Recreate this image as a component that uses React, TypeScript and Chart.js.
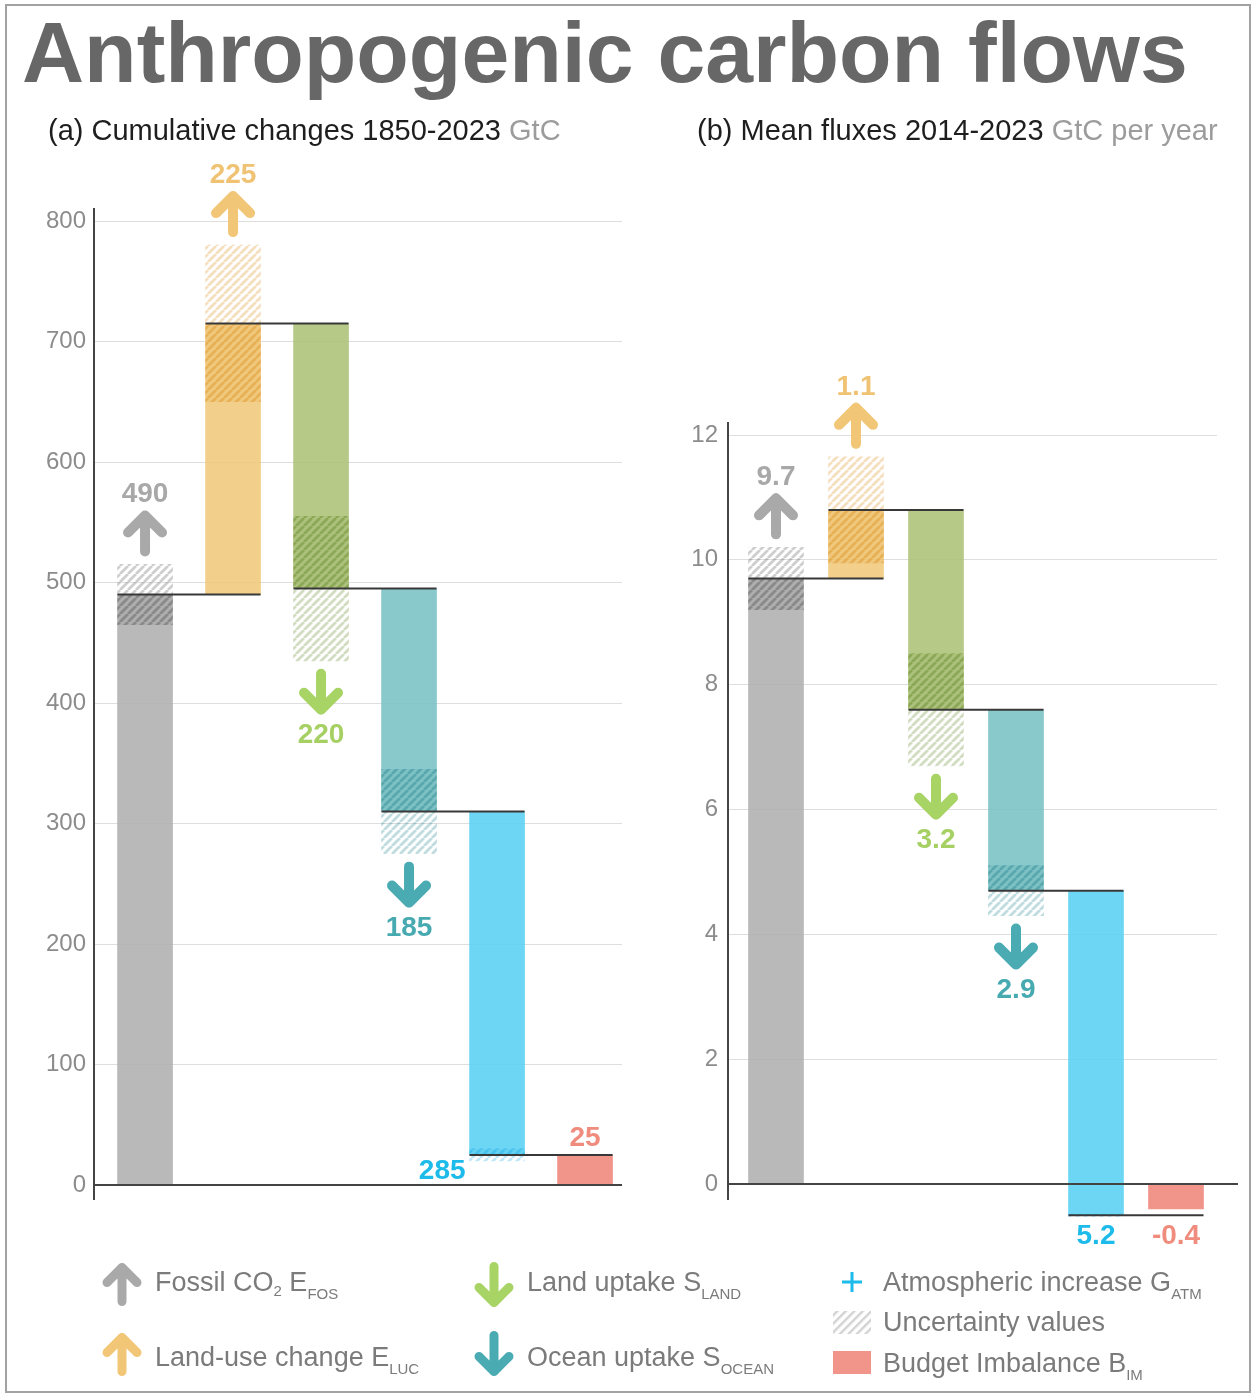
import React, { useEffect, useRef } from 'react';
import { Chart, registerables } from 'chart.js';

Chart.register(...registerables);

const FONT = '"Liberation Sans", Arial, Helvetica, sans-serif';

// Budget components, in the order they are stacked
const components = ['Fossil CO2', 'Land-use change', 'Land uptake', 'Ocean uptake', 'Atmospheric increase', 'Budget imbalance'];

// (a) Cumulative changes 1850-2023, GtC (sinks negative)
const cumulativeFluxes = [490, 225, -220, -185, -285];
const cumulativeUncertainty = [25, 65, 60, 35, 5];
const cumulativeImbalance = 25;
const cumulativeTicks = [0, 100, 200, 300, 400, 500, 600, 700, 800];

// (b) Mean fluxes 2014-2023, GtC per year (sinks negative)
const meanFluxes = [9.7, 1.1, -3.2, -2.9, -5.2];
const meanUncertainty = [0.5, 0.85, 0.9, 0.4, 0.02];
const meanImbalance = -0.4;
const meanTicks = [0, 2, 4, 6, 8, 10, 12];

// Colours per component
const barColors = [
  'rgba(175,175,175,0.88)',
  'rgba(240,200,122,0.88)',
  'rgba(172,194,118,0.88)',
  'rgba(121,194,197,0.88)',
  'rgba(89,208,242,0.88)',
  'rgba(239,133,122,0.88)',
];
const deepColors: number[][] = [
  [80, 80, 80],
  [220, 140, 20],
  [90, 130, 30],
  [30, 130, 140],
  [20, 170, 230],
];
const labelColors = ['#a8a8a8', '#f0c374', '#a6d063', '#48aab1', '#1cbbea', '#f08c7d'];
const arrowColors = ['#a9a9a9', '#f2c677', '#a8d466', '#4aabb2'];

const BAR_W = 55;
const ARROW_LEN = 46;
const ARROW_GAP = 8;

type PanelSpec = {
  fluxes: number[];
  uncertainty: number[];
  imbalance: number;
  ticks: number[];
  decimals: number;
  yMin: number;
  yMax: number;
  xMin: number;
  xMax: number;
  axisWidth: number;
  tickPadding: number;
  padding: { left: number; right: number; top: number; bottom: number };
  atmLabel: 'left' | 'below';
  bimLabel: 'above' | 'below';
  zeroExtra: number;
  axisOverTop: number;
  axisOverBottom: number;
};

const panelA: PanelSpec = {
  fluxes: cumulativeFluxes,
  uncertainty: cumulativeUncertainty,
  imbalance: cumulativeImbalance,
  ticks: cumulativeTicks,
  decimals: 0,
  yMin: 0,
  yMax: 800,
  xMin: 0.42,
  xMax: 6.42,
  axisWidth: 94,
  tickPadding: 8,
  padding: { left: 0, right: 18, top: 71, bottom: 65 },
  atmLabel: 'left',
  bimLabel: 'above',
  zeroExtra: 0,
  axisOverTop: 13,
  axisOverBottom: 15,
};

const panelB: PanelSpec = {
  fluxes: meanFluxes,
  uncertainty: meanUncertainty,
  imbalance: meanImbalance,
  ticks: meanTicks,
  decimals: 1,
  yMin: 0,
  yMax: 12,
  xMin: 0.4,
  xMax: 6.5125,
  axisWidth: 88,
  tickPadding: 10,
  padding: { left: 0, right: 39, top: 85, bottom: 66 },
  atmLabel: 'below',
  bimLabel: 'below',
  zeroExtra: 21,
  axisOverTop: 13,
  axisOverBottom: 16,
};

function makeHatch(rgb: number[], stripeAlpha: number, fillAlpha: number): CanvasPattern | string {
  const size = 8;
  const c = document.createElement('canvas');
  c.width = size;
  c.height = size;
  const g = c.getContext('2d');
  if (!g) return 'transparent';
  const [r, gg, b] = rgb;
  if (fillAlpha > 0) {
    g.fillStyle = `rgba(${r},${gg},${b},${fillAlpha})`;
    g.fillRect(0, 0, size, size);
  }
  g.strokeStyle = `rgba(${r},${gg},${b},${stripeAlpha})`;
  g.lineWidth = 2.8;
  g.beginPath();
  for (const k of [-size, 0, size]) {
    g.moveTo(k, size);
    g.lineTo(k + size, 0);
  }
  g.stroke();
  return g.createPattern(c, 'repeat') || 'transparent';
}

function drawArrow(ctx: CanvasRenderingContext2D, cx: number, top: number, bottom: number, up: boolean, color: string) {
  const lw = 10;
  const head = 17;
  const t = top + lw / 2;
  const b = bottom - lw / 2;
  ctx.save();
  ctx.strokeStyle = color;
  ctx.lineWidth = lw;
  ctx.lineCap = 'round';
  ctx.lineJoin = 'round';
  ctx.beginPath();
  if (up) {
    ctx.moveTo(cx, b);
    ctx.lineTo(cx, t);
    ctx.moveTo(cx - head, t + head);
    ctx.lineTo(cx, t);
    ctx.lineTo(cx + head, t + head);
  } else {
    ctx.moveTo(cx, t);
    ctx.lineTo(cx, b);
    ctx.moveTo(cx - head, b - head);
    ctx.lineTo(cx, b);
    ctx.lineTo(cx + head, b - head);
  }
  ctx.stroke();
  ctx.restore();
}

function buildChart(canvas: HTMLCanvasElement, spec: PanelSpec) {
  // running level after each flux
  const ends: number[] = [];
  let level = 0;
  const steps = spec.fluxes.map((v) => {
    const s = [level, level + v];
    level += v;
    ends.push(level);
    return s;
  });
  const bars = [...steps, [0, spec.imbalance]];
  // uncertainty: the half lying on the bar, and the half beyond its end
  const inside = spec.fluxes.map((v, i) => {
    const e = ends[i];
    const u = spec.uncertainty[i];
    return v > 0 ? [e - u, e] : [e, e + u];
  });
  const outside = spec.fluxes.map((v, i) => {
    const e = ends[i];
    const u = spec.uncertainty[i];
    return v > 0 ? [e, e + u] : [e - u, e];
  });
  const insidePatterns = deepColors.map((c) => makeHatch(c, 0.38, 0.1));
  const outsidePatterns = deepColors.map((c) => makeHatch(c, 0.28, 0));

  const fmt = (v: number) => v.toFixed(spec.decimals);

  const marks = {
    id: 'flowMarks',
    afterDatasetsDraw(chart: any) {
      const { ctx, chartArea } = chart;
      const xs = chart.scales.x;
      const ys = chart.scales.y;
      const half = BAR_W / 2;
      ctx.save();

      // connectors from one bar's end to the next bar
      ctx.strokeStyle = '#383838';
      ctx.lineWidth = 2;
      ends.forEach((e, i) => {
        const yy = ys.getPixelForValue(e);
        ctx.beginPath();
        ctx.moveTo(xs.getPixelForValue(i + 1) - half, yy);
        ctx.lineTo(xs.getPixelForValue(i + 2) + half, yy);
        ctx.stroke();
      });

      // axis lines
      ctx.strokeStyle = '#444';
      ctx.lineWidth = 2;
      const zy = ys.getPixelForValue(0);
      ctx.beginPath();
      ctx.moveTo(chartArea.left, zy);
      ctx.lineTo(chartArea.right + spec.zeroExtra, zy);
      ctx.stroke();
      ctx.beginPath();
      ctx.moveTo(chartArea.left, chartArea.top - spec.axisOverTop);
      ctx.lineTo(chartArea.left, chartArea.bottom + spec.axisOverBottom);
      ctx.stroke();

      ctx.font = `bold 28px ${FONT}`;
      ctx.textAlign = 'center';
      ctx.textBaseline = 'alphabetic';

      // arrows with values for sources and sinks
      for (let i = 0; i < 4; i++) {
        const cx = xs.getPixelForValue(i + 1);
        const v = spec.fluxes[i];
        const u = spec.uncertainty[i];
        const up = v > 0;
        ctx.fillStyle = labelColors[i];
        if (up) {
          const bottom = ys.getPixelForValue(ends[i] + u) - ARROW_GAP;
          const top = bottom - ARROW_LEN;
          drawArrow(ctx, cx, top, bottom, true, arrowColors[i]);
          ctx.fillText(fmt(Math.abs(v)), cx, top - 8);
        } else {
          const top = ys.getPixelForValue(ends[i] - u) + ARROW_GAP;
          const bottom = top + ARROW_LEN;
          drawArrow(ctx, cx, top, bottom, false, arrowColors[i]);
          ctx.fillText(fmt(Math.abs(v)), cx, bottom + 28);
        }
      }

      // atmosphere and imbalance values
      const lowest = Math.max(ys.getPixelForValue(ends[4]), ys.getPixelForValue(Math.min(0, spec.imbalance)));
      const belowBaseline = lowest + 29;
      const atmX = xs.getPixelForValue(5);
      ctx.fillStyle = labelColors[4];
      if (spec.atmLabel === 'left') {
        ctx.textAlign = 'right';
        ctx.fillText(fmt(Math.abs(spec.fluxes[4])), atmX - half - 4, ys.getPixelForValue(ends[4]) + 24);
      } else {
        ctx.textAlign = 'center';
        ctx.fillText(fmt(Math.abs(spec.fluxes[4])), atmX, belowBaseline);
      }
      const bimX = xs.getPixelForValue(6);
      ctx.fillStyle = labelColors[5];
      ctx.textAlign = 'center';
      if (spec.bimLabel === 'above') {
        ctx.fillText(fmt(spec.imbalance), bimX, ys.getPixelForValue(Math.max(0, spec.imbalance)) - 9);
      } else {
        ctx.fillText(fmt(spec.imbalance), bimX, belowBaseline);
      }
      ctx.restore();
    },
  };

  const common = { barThickness: BAR_W, grouped: false, clip: false as any, borderWidth: 0 };

  return new Chart(canvas, {
    type: 'bar',
    data: {
      datasets: [
        {
          label: 'flux',
          data: bars.map((r, i) => ({ x: i + 1, y: r })) as any,
          backgroundColor: barColors,
          order: 3,
          ...common,
        },
        {
          label: 'uncertainty on bar',
          data: inside.map((r, i) => ({ x: i + 1, y: r })) as any,
          backgroundColor: insidePatterns as any,
          order: 2,
          ...common,
        },
        {
          label: 'uncertainty beyond bar',
          data: outside.map((r, i) => ({ x: i + 1, y: r })) as any,
          backgroundColor: outsidePatterns as any,
          order: 1,
          ...common,
        },
      ],
    },
    options: {
      animation: false,
      responsive: false,
      events: [],
      layout: { padding: spec.padding },
      plugins: { legend: { display: false }, tooltip: { enabled: false } },
      scales: {
        x: { type: 'linear', display: false, offset: false, min: spec.xMin, max: spec.xMax },
        y: {
          min: spec.yMin,
          max: spec.yMax,
          afterFit: (s: any) => {
            s.width = spec.axisWidth;
          },
          afterBuildTicks: (s: any) => {
            s.ticks = spec.ticks.map((v) => ({ value: v }));
          },
          grid: { color: '#dedede', lineWidth: 1, drawTicks: false },
          border: { display: false },
          ticks: {
            padding: spec.tickPadding,
            color: '#8c8c8c',
            font: { family: FONT, size: 24 },
            callback: (v: any) => String(v),
          },
        },
      },
    },
    plugins: [marks as any],
  });
}

function Panel({ spec, left, top, width, height }: { spec: PanelSpec; left: number; top: number; width: number; height: number }) {
  const ref = useRef<HTMLCanvasElement>(null);
  useEffect(() => {
    if (!ref.current) return;
    const chart = buildChart(ref.current, spec);
    return () => chart.destroy();
  }, [spec]);
  return <canvas ref={ref} width={width} height={height} style={{ position: 'absolute', left, top, width, height }} />;
}

function LegendArrow({ x, top, bottom, up, color }: { x: number; top: number; bottom: number; up: boolean; color: string }) {
  const lw = 9;
  const head = 15;
  const t = top + lw / 2;
  const b = bottom - lw / 2;
  const d = up
    ? `M${x},${b} L${x},${t} M${x - head},${t + head} L${x},${t} L${x + head},${t + head}`
    : `M${x},${t} L${x},${b} M${x - head},${b - head} L${x},${b} L${x + head},${b - head}`;
  return <path d={d} stroke={color} strokeWidth={lw} strokeLinecap="round" strokeLinejoin="round" fill="none" />;
}

export default function App() {
  const legendFill = '#7b7b7b';
  return (
    <div style={{ position: 'absolute', left: 0, top: 0, width: 1256, height: 1397, background: '#fff', fontFamily: FONT }}>
      <div
        style={{
          position: 'absolute',
          left: 5,
          top: 4,
          width: 1246,
          height: 1389,
          border: '2px solid #a2a2a2',
          boxSizing: 'border-box',
        }}
      />
      <Panel spec={panelA} left={0} top={150} width={640} height={1100} />
      <Panel spec={panelB} left={640} top={350} width={616} height={900} />
      <svg width={1256} height={1397} style={{ position: 'absolute', left: 0, top: 0, pointerEvents: 'none' }} fontFamily={FONT}>
        <defs>
          <pattern id="hatch" width={6} height={6} patternUnits="userSpaceOnUse" patternTransform="rotate(45)">
            <rect x={0} y={0} width={2.4} height={6} fill="#d2d2d2" />
          </pattern>
        </defs>
        <text x={22} y={82} fontSize={86} fontWeight="bold" fill="#676767">
          Anthropogenic carbon flows
        </text>
        <text x={48} y={140} fontSize={29} fill="#1e1e1e">
          (a) Cumulative changes 1850-2023 <tspan fill="#9c9c9c">GtC</tspan>
        </text>
        <text x={697} y={140} fontSize={29} fill="#1e1e1e">
          (b) Mean fluxes 2014-2023 <tspan fill="#9c9c9c">GtC per year</tspan>
        </text>

        {/* legend */}
        <LegendArrow x={122} top={1263} bottom={1306} up color={arrowColors[0]} />
        <LegendArrow x={122} top={1333} bottom={1376} up color={arrowColors[1]} />
        <LegendArrow x={494} top={1262} bottom={1307} up={false} color={arrowColors[2]} />
        <LegendArrow x={494} top={1331} bottom={1376} up={false} color={arrowColors[3]} />
        <path d="M852,1272 L852,1292 M842,1282 L862,1282" stroke="#1cbbea" strokeWidth={3} />
        <rect x={833} y={1311} width={38} height={23} fill="url(#hatch)" />
        <rect x={833} y={1351} width={38} height={23} fill="#f1948a" />

        <text x={155} y={1291} fontSize={27} fill={legendFill}>
          Fossil CO<tspan fontSize={15} dy={5}>2</tspan>
          <tspan dy={-5}> E</tspan>
          <tspan fontSize={15} dy={8}>FOS</tspan>
        </text>
        <text x={155} y={1366} fontSize={27} fill={legendFill}>
          Land-use change E<tspan fontSize={15} dy={8}>LUC</tspan>
        </text>
        <text x={527} y={1291} fontSize={27} fill={legendFill}>
          Land uptake S<tspan fontSize={15} dy={8}>LAND</tspan>
        </text>
        <text x={527} y={1366} fontSize={27} fill={legendFill}>
          Ocean uptake S<tspan fontSize={15} dy={8}>OCEAN</tspan>
        </text>
        <text x={883} y={1291} fontSize={27} fill={legendFill}>
          Atmospheric increase G<tspan fontSize={15} dy={8}>ATM</tspan>
        </text>
        <text x={883} y={1331} fontSize={27} fill={legendFill}>
          Uncertainty values
        </text>
        <text x={883} y={1372} fontSize={27} fill={legendFill}>
          Budget Imbalance B<tspan fontSize={15} dy={8}>IM</tspan>
        </text>
      </svg>
    </div>
  );
}
